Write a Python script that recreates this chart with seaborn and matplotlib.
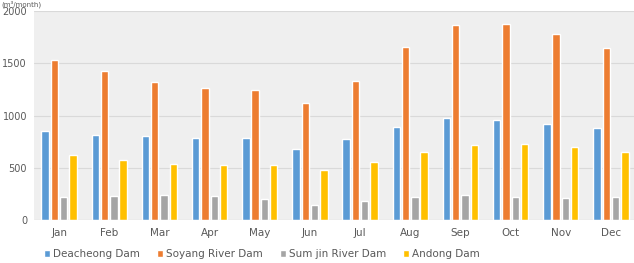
import matplotlib
matplotlib.use("Agg")
import matplotlib.pyplot as plt
import seaborn as sns
import pandas as pd

months = ["Jan", "Feb", "Mar", "Apr", "May", "Jun", "Jul", "Aug", "Sep", "Oct", "Nov", "Dec"]
dams = ["Deacheong Dam", "Soyang River Dam", "Sum jin River Dam", "Andong Dam"]
deacheong = [856, 811, 805, 788, 782, 676, 776, 888, 978, 955, 916, 882]
soyang = [1529, 1423, 1317, 1263, 1247, 1118, 1327, 1660, 1865, 1872, 1776, 1644]
sumjin = [224, 228, 243, 234, 205, 144, 183, 218, 240, 218, 212, 218]
andong = [625, 577, 538, 529, 529, 474, 551, 647, 721, 728, 702, 654]
yticks = [0, 500, 1000, 1500, 2000]
colors = ["#5B9BD5", "#ED7D31", "#A5A5A5", "#FFC000"]

rows = []
for name, vals in zip(dams, [deacheong, soyang, sumjin, andong]):
    for m, v in zip(months, vals):
        rows.append({"month": m, "dam": name, "value": v})
df = pd.DataFrame(rows)

sns.set_theme(style="white")
plt.rcParams["font.family"] = ["DejaVu Sans"]

fig = plt.figure(figsize=(6.34, 2.63), dpi=100)
ax = fig.add_axes([34/634, 43/263, 602/634, 209/263])
ax.set_facecolor("#EFEFEF")

sns.barplot(data=df, x="month", y="value", hue="dam", order=months, hue_order=dams,
            palette=colors, width=0.74, gap=0.2, saturation=1, ax=ax, legend=True)

ax.set_ylim(0, 2000)
ax.set_yticks(yticks)
ax.set_yticklabels([str(t) for t in yticks])
ax.set_xlim(-0.5, 11.5)
ax.yaxis.grid(True, color="#D9D9D9", linewidth=0.8)
ax.set_axisbelow(True)
for s in ax.spines.values():
    s.set_visible(False)
ax.axhline(0, color="#D9D9D9", linewidth=0.8)
ax.set_xlabel("")
ax.set_ylabel("")
ax.tick_params(axis="both", length=0, labelsize=7.5, colors="#595959")
ax.tick_params(axis="x", pad=6)
ax.tick_params(axis="y", labelsize=7, pad=5)

handles, labels = ax.get_legend_handles_labels()
ax.legend_.remove()
fig.legend(handles, labels, loc="center", bbox_to_anchor=(262/634, 1 - 254/263), ncol=4,
           frameon=False, fontsize=7.5, handlelength=0.6, handleheight=0.6,
           handletextpad=0.3, columnspacing=1.6, labelcolor="#595959")

fig.text(1/634, 1 - 0.5/263, "(m³/month)", fontsize=5, color="#595959", ha="left", va="top")

fig.savefig("out.png", dpi=100)
